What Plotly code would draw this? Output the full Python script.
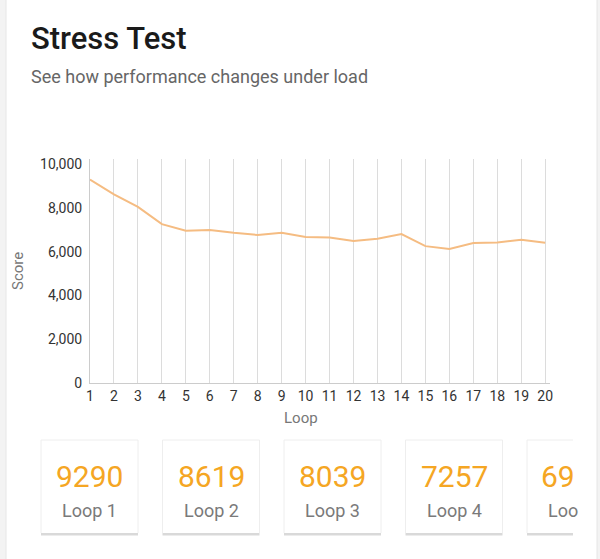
import plotly.graph_objects as go

loops = list(range(1, 21))
scores = [9290, 8619, 8039, 7257, 6950, 6990, 6860, 6760, 6860, 6670,
          6650, 6480, 6590, 6800, 6250, 6120, 6390, 6420, 6540, 6410]
y_ticks = [0, 2000, 4000, 6000, 8000, 10000]
card_labels = ["Loop %d" % i for i in loops]

W, H = 600, 559
L, R, T, B = 90, 50, 159, 176
PW, PH = W - L - R, H - T - B

def px(x):
    return (x - L) / PW

def py(y):
    return (H - B - y) / PH

fig = go.Figure()
fig.add_trace(go.Scatter(x=loops, y=scores, mode="lines",
                         line=dict(color="#F5BC82", width=2),
                         hoverinfo="x+y", showlegend=False))

shapes = []
# outer card
shapes.append(dict(type="rect", xref="paper", yref="paper",
                   x0=px(6), x1=px(597), y0=py(575), y1=py(-20),
                   fillcolor="white", line=dict(color="#e6e6e6", width=1),
                   layer="below"))

annotations = []
annotations.append(dict(text="Stress Test", xref="paper", yref="paper",
                        x=px(29), y=py(38), xanchor="left", yanchor="middle",
                        showarrow=False,
                        font=dict(family="Roboto", size=31, weight=500, color="#1a1a1a")))
annotations.append(dict(text="See how performance changes under load", xref="paper", yref="paper",
                        x=px(29), y=py(76), xanchor="left", yanchor="middle",
                        showarrow=False,
                        font=dict(family="Roboto", size=18, color="#666666")))

card_w = 97
card_step = 121.5
card_x0 = 41
clip_x = 573
for i in range(5):
    x0 = card_x0 + i * card_step
    x1 = min(x0 + card_w, clip_x)
    # shadow
    shapes.append(dict(type="rect", xref="paper", yref="paper",
                       x0=px(x0), x1=px(x1), y0=py(535.5), y1=py(441),
                       fillcolor="#d9d9d9", line=dict(width=0), layer="below"))
    shapes.append(dict(type="rect", xref="paper", yref="paper",
                       x0=px(x0), x1=px(x1), y0=py(533), y1=py(440),
                       fillcolor="white", line=dict(width=0), layer="below"))
    # card border (no right edge on the clipped card)
    edges = [(x0, 440, x1, 440), (x0, 440, x0, 533)]
    if x1 == x0 + card_w:
        edges.append((x1, 440, x1, 533))
    for ex0, ey0, ex1, ey1 in edges:
        shapes.append(dict(type="line", xref="paper", yref="paper",
                           x0=px(ex0), x1=px(ex1), y0=py(ey0), y1=py(ey1),
                           line=dict(color="#eeeeee", width=1), layer="below"))
    cx = x0 + card_w / 2
    val = str(scores[i])
    lab = card_labels[i]
    if x1 < x0 + card_w:
        val = val[:2]
        lab = lab[:3]
        annotations.append(dict(text=val, xref="paper", yref="paper",
                                x=px(539), y=py(476), xanchor="left", yanchor="middle",
                                showarrow=False,
                                font=dict(family="Roboto", size=30, color="#F5A623")))
        annotations.append(dict(text=lab, xref="paper", yref="paper",
                                x=px(546), y=py(510), xanchor="left", yanchor="middle",
                                showarrow=False,
                                font=dict(family="Roboto", size=18, color="#7a7a7a")))
    else:
        annotations.append(dict(text=val, xref="paper", yref="paper",
                                x=px(cx), y=py(476), xanchor="center", yanchor="middle",
                                showarrow=False,
                                font=dict(family="Roboto", size=30, color="#F5A623")))
        annotations.append(dict(text=lab, xref="paper", yref="paper",
                                x=px(cx), y=py(510), xanchor="center", yanchor="middle",
                                showarrow=False,
                                font=dict(family="Roboto", size=18, color="#7a7a7a")))

# axis titles
annotations.append(dict(text="Score", xref="paper", yref="paper",
                        x=px(18), y=py(271), xanchor="center", yanchor="middle",
                        textangle=-90, showarrow=False,
                        font=dict(family="Roboto", size=15, color="#777777")))
annotations.append(dict(text="Loop", xref="paper", yref="paper",
                        x=px(301), y=py(418), xanchor="center", yanchor="middle",
                        showarrow=False,
                        font=dict(family="Roboto", size=15, color="#777777")))

fig.update_layout(
    width=W, height=H,
    margin=dict(l=L, r=R, t=T, b=B, autoexpand=False),
    paper_bgcolor="#f3f3f3",
    plot_bgcolor="white",
    shapes=shapes,
    annotations=annotations,
    font=dict(family="Roboto", color="#333333"),
)
fig.update_xaxes(range=[1, 20.2], tickmode="array", tickvals=loops,
                 ticktext=[str(v) for v in loops],
                 showgrid=True, gridcolor="#dcdcdc", gridwidth=1,
                 showline=True, linecolor="#cccccc", linewidth=1,
                 zeroline=False, ticks="", tickfont=dict(size=14, color="#333333"),
                 fixedrange=True)
fig.update_yaxes(range=[0, 10230], tickmode="array", tickvals=y_ticks,
                 ticktext=[f"{v:,}" for v in y_ticks],
                 showgrid=False, showline=True, linecolor="#cccccc", linewidth=1,
                 zeroline=False, ticks="", ticklabelstandoff=4,
                 tickfont=dict(size=14, color="#333333"), fixedrange=True)

fig.write_html("out.html", config={"displayModeBar": False})
